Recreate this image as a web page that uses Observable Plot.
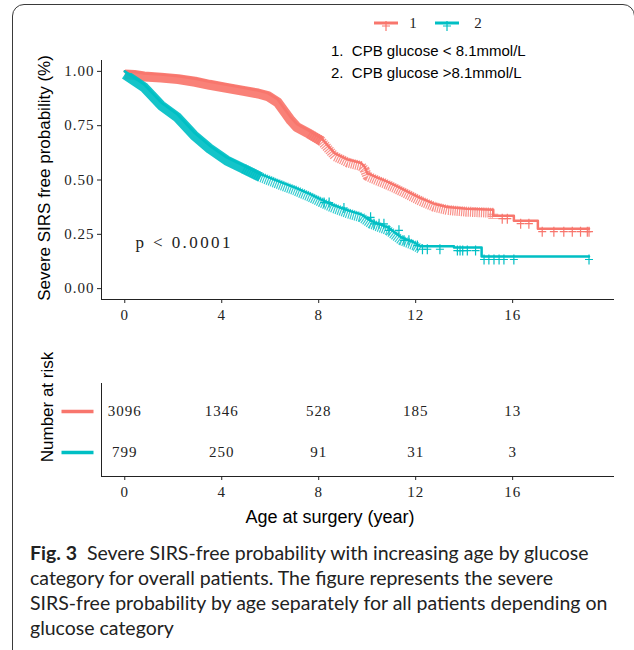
<!DOCTYPE html>
<html>
<head>
<meta charset="utf-8">
<script src="https://cdn.jsdelivr.net/npm/d3@7"></script>
<script src="https://cdn.jsdelivr.net/npm/@observablehq/plot@0.6"></script>
<style>
  html, body { margin: 0; padding: 0; background: #fff; overflow: hidden; }
  #page { position: relative; width: 634px; height: 650px; overflow: hidden; background: #fff; }
  .abs { position: absolute; }
  #frame { position: absolute; left: 12px; top: 4px; width: 623px; height: 660px; box-sizing: border-box;
           border: 1px solid #3a3a3a; border-radius: 12px; pointer-events: none; }
  .sans { font-family: "Liberation Sans", Arial, sans-serif; color: #000; }
  .rot { transform: translate(-50%, -50%) rotate(-90deg); white-space: nowrap; }
  #caption { left: 30px; top: 540px; font-family: Lato, "Open Sans", sans-serif; font-size: 19.5px;
             line-height: 25px; color: #222; white-space: nowrap; }
  #caption b { font-weight: 700; }
</style>
</head>
<body>
<div id="page">
  <div id="mainPlot" class="abs" style="left:0;top:0;"></div>
  <div id="riskPlot" class="abs" style="left:0;top:370px;"></div>
  <div id="legendKeys" class="abs" style="left:0;top:0;"></div>
  <div id="legendText" class="abs sans" style="left:331px;top:40px;font-size:15px;line-height:22px;white-space:pre;"></div>
  <div class="abs sans rot" style="left:45px;top:178px;font-size:17px;">Severe SIRS free probability (%)</div>
  <div class="abs sans rot" style="left:48px;top:407px;font-size:17px;">Number at risk</div>
  <div class="abs sans" style="left:330px;top:517px;transform:translate(-50%,-50%);font-size:18px;white-space:nowrap;">Age at surgery (year)</div>
  <div id="caption" class="abs"><b>Fig. 3</b>&nbsp; Severe SIRS-free probability with increasing age by glucose<br>category for overall patients. The figure represents the severe<br>SIRS-free probability by age separately for all patients depending on<br>glucose category</div>
  <div id="frame"></div>
</div>
<script>
// ---------------- data ----------------
const strata = ["1", "2"];
const strataColors = ["#F8766D", "#00BFC4"];
const legendLabels = ["1.  CPB glucose < 8.1mmol/L", "2.  CPB glucose >8.1mmol/L"];

// group 1 (CPB glucose < 8.1 mmol/L): survival curve
const redTime = [0, 0.4, 0.8, 1.5, 2.2, 2.9, 3.5, 4.2, 4.9, 5.5, 5.9, 6.3, 6.6, 6.85, 7.1, 7.6, 8.1, 8.65, 9.2, 9.75, 9.9, 10.0, 10.4, 10.8, 11.2, 11.65, 12.2, 12.75, 13.3, 14.1, 15.2, 15.2, 16.05, 16.05, 17.04, 17.04, 19.15];
const redSurv = [1.0, 0.997, 0.99, 0.985, 0.978, 0.966, 0.952, 0.938, 0.924, 0.912, 0.9, 0.872, 0.826, 0.788, 0.757, 0.727, 0.694, 0.624, 0.594, 0.578, 0.56, 0.532, 0.512, 0.494, 0.473, 0.448, 0.417, 0.391, 0.376, 0.368, 0.363, 0.336, 0.336, 0.313, 0.313, 0.276, 0.276];
// group 2 (CPB glucose > 8.1 mmol/L)
const tealTime = [0, 0.4, 0.8, 1.5, 2.15, 2.85, 3.5, 4.2, 4.9, 5.6, 6.3, 7.0, 7.65, 8.1, 8.6, 9.2, 9.75, 10.15, 10.85, 11.4, 11.95, 12.2, 13.58, 13.58, 14.72, 14.72, 19.15];
const tealSurv = [1.0, 0.97, 0.94, 0.857, 0.804, 0.72, 0.658, 0.604, 0.566, 0.527, 0.496, 0.466, 0.435, 0.41, 0.385, 0.36, 0.342, 0.312, 0.282, 0.236, 0.212, 0.195, 0.195, 0.189, 0.189, 0.148, 0.148];
// censoring density: solid band of marks, then a picket of marks
const redSolidEnd = 8.0, redPicketEnd = 15.2;
const tealSolidEnd = 5.6, tealPicketEnd = 12.5;
// visible individual censor marks
const redCensor = [15.57, 15.78, 16.33, 16.67, 17.22, 17.7, 18.11, 18.46, 18.8, 19.08, 19.15];
const tealCensor = [8.22, 8.43, 9.04, 10.14, 10.28, 10.49, 10.69, 10.9, 11.31, 11.52, 11.72, 12.07, 12.28, 12.48, 13.0, 13.72, 13.83, 13.94, 14.13, 14.47, 14.82, 15.02, 15.23, 15.44, 15.64, 16.05, 19.15];

// number at risk
const riskTimes = [0, 4, 8, 12, 16];
const risk1 = [3096, 1346, 528, 185, 13];
const risk2 = [799, 250, 91, 31, 3];

const xTicks = [0, 4, 8, 12, 16];
const yTicks = [0, 0.25, 0.5, 0.75, 1];
const pLabel = "p < 0.0001";

// ---------------- derived tables ----------------
const groups = [
  {g: "1", time: redTime, surv: redSurv, solid: redSolidEnd, picket: redPicketEnd, censor: redCensor},
  {g: "2", time: tealTime, surv: tealSurv, solid: tealSolidEnd, picket: tealPicketEnd, censor: tealCensor}
];
const survAt = (time, surv, t) => surv[Math.max(0, d3.bisectRight(time, t) - 1)];
const curve = groups.flatMap(G => G.time.map((t, i) => ({g: G.g, t, s: G.surv[i]})));
const grp = g => groups.find(G => G.g === g);
const solidBand = curve.filter(d => d.t <= grp(d.g).solid + 0.5);
const picketBand = curve.filter(d => d.t >= grp(d.g).solid - 0.8 && d.t <= grp(d.g).picket);
const censor = groups.flatMap(G => G.censor.map(t => ({g: G.g, t, s: survAt(G.time, G.surv, t)})));
const riskRows = riskTimes.flatMap((t, i) => [{t, g: "1", n: risk1[i]}, {t, g: "2", n: risk2[i]}]);

// ---------------- symbols ----------------
const plusSymbol = {draw(ctx) { ctx.moveTo(-4, 0); ctx.lineTo(4, 0); ctx.moveTo(0, -5); ctx.lineTo(0, 5); }};
const dashSymbol = {draw(ctx) { ctx.moveTo(-16, 0); ctx.lineTo(16, 0); }};

const xScale = {domain: [-0.96, 20.16], ticks: xTicks, tickSize: 4, tickPadding: 6, line: true, label: null};
const baseStyle = {fontFamily: "'Liberation Serif', 'Times New Roman', serif", fontSize: "15px", color: "#222", background: "transparent", letterSpacing: "1px"};

// ---------------- main KM plot ----------------
const main = Plot.plot({
  width: 634, height: 330,
  marginTop: 60, marginBottom: 31, marginLeft: 101, marginRight: 21,
  style: baseStyle,
  x: xScale,
  y: {domain: [-0.05, 1.05], ticks: yTicks, tickFormat: d3.format(".2f"), tickSize: 4, tickPadding: 3, line: true, label: null},
  color: {domain: strata, range: strataColors},
  marks: [
    Plot.line(solidBand, {x: "t", y: "s", z: "g", stroke: "g", strokeWidth: 10, dy: 3, strokeOpacity: 0.92, strokeLinecap: "butt"}),
    Plot.line(picketBand, {x: "t", y: "s", z: "g", stroke: "g", strokeWidth: 10, dy: 3, strokeOpacity: 0.8, strokeLinecap: "butt", strokeDasharray: "1.2,1"}),
    Plot.line(curve, {x: "t", y: "s", z: "g", stroke: "g", strokeWidth: 2.5}),
    Plot.dot(censor, {x: "t", y: "s", stroke: "g", fill: "none", symbol: plusSymbol, strokeWidth: 1.2, dy: 3}),
    Plot.text([pLabel], {text: d => d, frameAnchor: "bottom-left", dx: 34, dy: -52, textAnchor: "start", fontSize: 17, fill: "#222", className: "pval"})
  ]
});
d3.select(main).selectAll(".pval text").attr("letter-spacing", "2.4px");
document.getElementById("mainPlot").appendChild(main);

// ---------------- risk table ----------------
const risk = Plot.plot({
  width: 634, height: 130,
  marginTop: 13, marginBottom: 24, marginLeft: 101, marginRight: 21,
  style: baseStyle,
  x: xScale,
  y: {type: "point", domain: strata, padding: 0.585, insetTop: 4, line: true, tickSize: 0, tickFormat: () => "", label: null},
  color: {domain: strata, range: strataColors},
  marks: [
    Plot.text(riskRows, {x: "t", y: "g", text: d => String(d.n), fontSize: 15, fill: "#222"}),
    Plot.dot(strata, {y: d => d, frameAnchor: "left", dx: -24, symbol: dashSymbol, stroke: d => d, fill: "none", strokeWidth: 3.5})
  ]
});
document.getElementById("riskPlot").appendChild(risk);

// ---------------- legend (above chart) ----------------
const keyX = [386, 447];
const labX = [413, 478];
let keys = `<svg width="634" height="40" xmlns="http://www.w3.org/2000/svg">`;
strata.forEach((s, i) => {
  const c = strataColors[i];
  keys += `<line x1="${keyX[i] - 12}" x2="${keyX[i] + 12}" y1="23" y2="23" stroke="${c}" stroke-width="3"/>`;
  keys += `<path d="M${keyX[i] - 4},26h8M${keyX[i]},21v10" stroke="${c}" stroke-width="1.2" fill="none"/>`;
  keys += `<text x="${labX[i]}" y="28" text-anchor="middle" font-family="Liberation Serif, serif" font-size="15" fill="#222">${s}</text>`;
});
keys += `</svg>`;
document.getElementById("legendKeys").innerHTML = keys;
document.getElementById("legendText").textContent = legendLabels.join("\n");
</script>
</body>
</html>
